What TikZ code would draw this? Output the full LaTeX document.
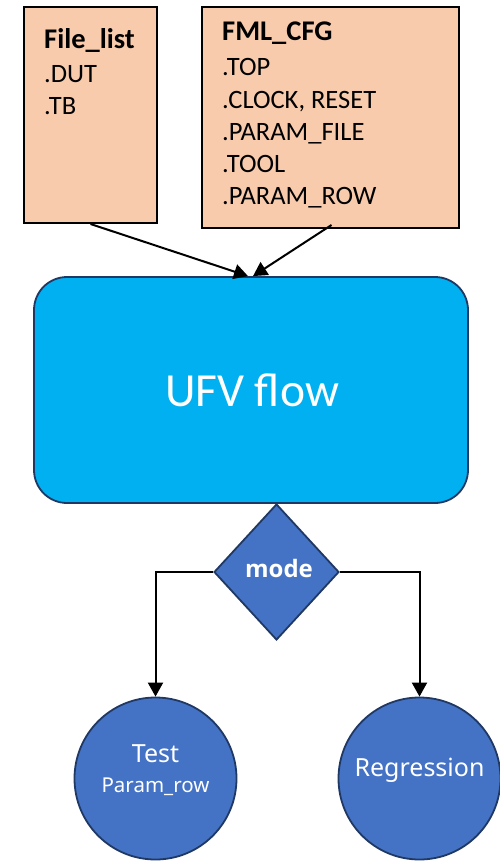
\documentclass[tikz,border=0pt]{standalone}
\usepackage{fontspec}
\setmainfont{Carlito}
\newfontfamily\circfont{Noto Sans}
\newfontfamily\opensansfam{Open Sans}
\usetikzlibrary{shapes.geometric,arrows.meta}
\definecolor{peach}{HTML}{F8CBAD}
\definecolor{cyanbox}{HTML}{00B0F0}
\definecolor{bluefill}{HTML}{4472C4}
\definecolor{navy}{HTML}{203864}
\tikzset{
  filebox/.style={draw=black, line width=2pt, fill=peach, anchor=north west, inner sep=0pt},
  boxtxt/.style={anchor=base west, inner sep=0pt, font=\fontsize{26.5}{30}\selectfont},
  boxtitle/.style={boxtxt, font=\fontsize{28.5}{32}\selectfont\bfseries},
  bluenode/.style={draw=navy, line width=1.8pt, fill=bluefill, inner sep=0pt},
  whitetxt/.style={text=white, inner sep=0pt, anchor=base},
  arr/.style={draw=black, line width=2pt, -{Triangle[length=14pt,width=15pt]}},
}
\begin{document}
\begin{tikzpicture}[x=1pt,y=-1pt]
\useasboundingbox (0,0) rectangle (500,865);
% input boxes
\node[filebox, minimum width=133pt, minimum height=216pt] (fl) at (23,6) {};
\node[filebox, minimum width=257pt, minimum height=221pt] (fc) at (201,6) {};
\node[boxtitle] (flt) at (44,48) {File\_list};
\node[boxtxt] (fl1) at (44,82) {.DUT};
\node[boxtxt] (fl2) at (44,114) {.TB};
\node[boxtitle] (fct) at (222,40) {FML\_CFG};
\node[boxtxt] (fc1) at (222,75) {.TOP};
\node[boxtxt] (fc2) at (222,108) {.CLOCK, RESET};
\node[boxtxt] (fc3) at (222,140) {.PARAM\_FILE};
\node[boxtxt] (fc4) at (222,172) {.TOOL};
\node[boxtxt] (fc5) at (222,204) {.PARAM\_ROW};
% main flow
\node[draw=navy, line width=1.8pt, fill=cyanbox, rounded corners=33pt,
      minimum width=434pt, minimum height=226pt, inner sep=0pt] (ufv) at (251,390) {};
\node[whitetxt, font=\fontsize{47.5}{52}\selectfont] (ufvt) at (252,406) {UFV flow};
\draw[arr] (fl.south) -- ([xshift=-3pt]ufv.north);
\draw[arr] ([xshift=1pt,yshift=4pt]fc.south) -- ([xshift=2pt]ufv.north);
% decision
\node[bluenode, diamond, minimum width=125pt, minimum height=136pt] (mode) at (276.5,572) {};
\node[whitetxt, font=\opensansfam\fontsize{24}{28}\selectfont\bfseries] (modet) at (279,577) {mode};
% results
\node[bluenode, circle, minimum size=162pt] (test) at (155.5,778.5) {};
\node[bluenode, circle, minimum size=162pt] (reg) at (419.5,778.5) {};
\node[whitetxt, font=\circfont\fontsize{25}{30}\selectfont] (testt) at (155.5,762) {Test};
\node[whitetxt, font=\circfont\fontsize{20.5}{24}\selectfont] (testp) at (155.5,792) {Param\_row};
\node[whitetxt, font=\circfont\fontsize{25}{30}\selectfont] (regt) at (419.5,776) {Regression};
\draw[arr] (mode.west) -| (test.north);
\draw[arr] (mode.east) -| (reg.north);
\end{tikzpicture}
\end{document}
